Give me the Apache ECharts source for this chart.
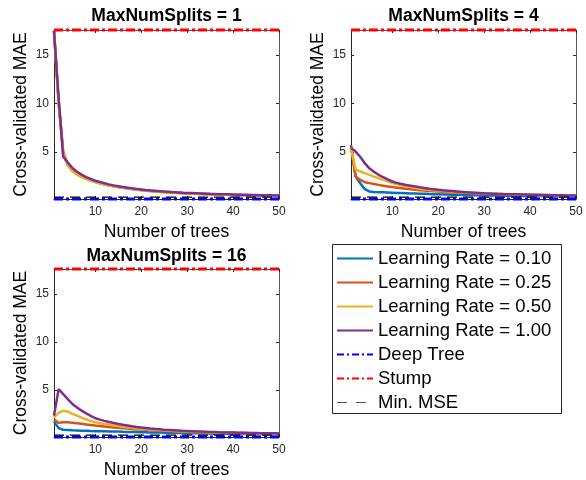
<!DOCTYPE html>
<html><head><meta charset="utf-8">
<script src="https://cdn.jsdelivr.net/npm/echarts@6/dist/echarts.min.js"></script>
<style>html,body{margin:0;padding:0;background:#fff}#c{width:586px;height:480px}</style>
</head><body><div id="c"></div>
<script>
// ---------- DATA ----------
const nTrees = [1,2,3,4,5,6,7,8,9,10,11,12,13,14,15,16,17,18,19,20,21,22,23,24,25,26,27,28,29,30,31,32,33,34,35,36,37,38,39,40,41,42,43,44,45,46,47,48,49,50];
const panelTitles = ['MaxNumSplits = 1', 'MaxNumSplits = 4', 'MaxNumSplits = 16'];
const rateNames = ['Learning Rate = 0.10', 'Learning Rate = 0.25', 'Learning Rate = 0.50', 'Learning Rate = 1.00'];
const refNames = ['Deep Tree', 'Stump', 'Min. MSE'];
const xTickValues = [10, 20, 30, 40, 50];
const yTickValues = [5, 10, 15];
const deepTreeMAE = 0.13;
const stumpMAE = 17.6;
const minMSE = 0.33;

// MaxNumSplits = 1
const split1_lr010 = [17.5,10.2,4.9,3.65,3.05,2.7,2.44,2.23,2.05,1.9,1.76,1.64,1.54,1.45,1.37,1.30,1.23,1.17,1.11,1.06,1.01,0.96,0.92,0.88,0.85,0.82,0.79,0.76,0.74,0.71,0.69,0.67,0.65,0.64,0.62,0.61,0.59,0.58,0.57,0.55,0.54,0.53,0.52,0.51,0.50,0.49,0.48,0.47,0.46,0.45];
const split1_lr025 = [17.5,10.3,5.0,3.7,3.1,2.75,2.48,2.27,2.08,1.92,1.78,1.66,1.56,1.47,1.38,1.31,1.24,1.18,1.12,1.07,1.02,0.97,0.93,0.89,0.86,0.83,0.80,0.77,0.74,0.72,0.70,0.68,0.66,0.64,0.63,0.61,0.60,0.58,0.57,0.56,0.55,0.54,0.53,0.52,0.51,0.50,0.49,0.48,0.47,0.46];
const split1_lr050 = [17.5,10.0,4.9,3.6,3.0,2.65,2.4,2.2,2.02,1.87,1.74,1.62,1.52,1.43,1.35,1.28,1.21,1.15,1.09,1.04,0.99,0.95,0.91,0.87,0.84,0.81,0.78,0.75,0.73,0.71,0.69,0.67,0.65,0.63,0.62,0.60,0.59,0.58,0.56,0.55,0.54,0.53,0.52,0.51,0.50,0.49,0.48,0.47,0.46,0.45];
const split1_lr100 = [17.5,10.6,4.5,3.9,3.35,2.95,2.65,2.4,2.2,2.02,1.88,1.75,1.64,1.54,1.45,1.37,1.30,1.23,1.17,1.11,1.06,1.02,0.98,0.94,0.90,0.87,0.84,0.81,0.78,0.76,0.74,0.72,0.70,0.68,0.66,0.65,0.63,0.62,0.61,0.59,0.58,0.57,0.56,0.55,0.54,0.53,0.52,0.51,0.50,0.49];

// MaxNumSplits = 4
const split4_lr010 = [5.7,2.45,1.77,1.15,0.91,0.86,0.84,0.82,0.80,0.78,0.76,0.74,0.72,0.70,0.69,0.67,0.66,0.64,0.63,0.62,0.60,0.59,0.58,0.57,0.56,0.55,0.54,0.53,0.52,0.51,0.50,0.49,0.49,0.48,0.47,0.47,0.46,0.45,0.45,0.44,0.44,0.43,0.43,0.42,0.42,0.41,0.41,0.41,0.40,0.40];
const split4_lr025 = [5.6,2.45,2.1,1.87,1.77,1.68,1.59,1.51,1.43,1.36,1.30,1.24,1.18,1.13,1.08,1.04,1.00,0.96,0.93,0.90,0.87,0.84,0.81,0.79,0.77,0.75,0.73,0.71,0.69,0.67,0.66,0.64,0.63,0.62,0.60,0.59,0.58,0.57,0.56,0.55,0.54,0.53,0.52,0.51,0.50,0.49,0.48,0.48,0.47,0.46];
const split4_lr050 = [5.38,3.2,2.97,2.8,2.63,2.45,2.28,2.11,1.95,1.77,1.66,1.56,1.46,1.36,1.26,1.20,1.14,1.09,1.04,1.00,0.96,0.92,0.89,0.86,0.83,0.80,0.78,0.76,0.73,0.71,0.69,0.68,0.66,0.64,0.63,0.61,0.60,0.59,0.58,0.57,0.56,0.55,0.54,0.53,0.52,0.51,0.50,0.49,0.48,0.48];
const split4_lr100 = [5.4,5.03,4.5,3.83,3.3,2.95,2.63,2.38,2.15,1.94,1.80,1.68,1.58,1.50,1.42,1.34,1.27,1.20,1.14,1.08,1.03,0.99,0.95,0.91,0.87,0.84,0.81,0.78,0.75,0.72,0.70,0.68,0.66,0.65,0.63,0.62,0.61,0.60,0.59,0.58,0.57,0.56,0.55,0.54,0.53,0.52,0.51,0.50,0.49,0.49];

// MaxNumSplits = 16
const split16_lr010 = [1.73,1.05,0.88,0.85,0.82,0.80,0.78,0.77,0.75,0.74,0.73,0.72,0.71,0.70,0.69,0.67,0.66,0.65,0.64,0.63,0.62,0.61,0.60,0.59,0.58,0.57,0.56,0.55,0.54,0.53,0.52,0.51,0.51,0.50,0.49,0.48,0.48,0.47,0.46,0.46,0.45,0.45,0.44,0.44,0.43,0.43,0.42,0.42,0.41,0.41];
const split16_lr025 = [1.94,1.6,1.67,1.67,1.6,1.55,1.5,1.44,1.38,1.32,1.27,1.22,1.17,1.13,1.09,1.05,1.01,0.97,0.94,0.91,0.88,0.85,0.82,0.80,0.78,0.75,0.73,0.71,0.70,0.68,0.66,0.65,0.63,0.62,0.61,0.60,0.59,0.58,0.57,0.56,0.55,0.54,0.53,0.52,0.51,0.50,0.50,0.49,0.48,0.48];
const split16_lr050 = [2.18,2.63,2.87,2.76,2.53,2.35,2.15,1.97,1.81,1.67,1.57,1.48,1.40,1.33,1.26,1.20,1.14,1.09,1.04,0.99,0.95,0.91,0.88,0.85,0.82,0.79,0.76,0.74,0.72,0.70,0.68,0.66,0.64,0.63,0.61,0.60,0.59,0.58,0.57,0.56,0.55,0.54,0.53,0.52,0.51,0.50,0.50,0.49,0.48,0.48];
const split16_lr100 = [2.35,5.1,4.59,4.07,3.56,3.2,2.87,2.58,2.32,2.08,1.94,1.81,1.69,1.58,1.49,1.40,1.32,1.24,1.17,1.11,1.06,1.01,0.97,0.93,0.89,0.86,0.83,0.80,0.77,0.75,0.73,0.71,0.69,0.67,0.65,0.64,0.62,0.61,0.60,0.59,0.58,0.57,0.56,0.55,0.54,0.53,0.52,0.51,0.51,0.50];

const panelData = [
  [split1_lr010, split1_lr025, split1_lr050, split1_lr100],
  [split4_lr010, split4_lr025, split4_lr050, split4_lr100],
  [split16_lr010, split16_lr025, split16_lr050, split16_lr100]
];

// ---------- STYLE ----------
const FONT = '"Liberation Sans", Arial, Helvetica, sans-serif';
const AX = '#262626';
const rateColors = ['#0072BD', '#D95319', '#EDB120', '#7E2F8E'];
const grids = [
  {left: 54, top: 30, width: 225, height: 169},
  {left: 351, top: 30, width: 225, height: 169},
  {left: 54, top: 269, width: 225, height: 169}
];

const xAxes = [], yAxes = [], series = [], graphics = [];
grids.forEach((g, p) => {
  const xBase = {
    type: 'value', gridIndex: p, min: nTrees[0], max: nTrees[nTrees.length - 1],
    splitLine: {show: false},
    axisLine: {show: true, onZero: false, lineStyle: {color: AX, width: 1}},
    axisTick: {show: true, inside: true, length: 3, customValues: xTickValues, lineStyle: {color: AX}}
  };
  xAxes.push(Object.assign({}, xBase, {
    position: 'bottom',
    axisLabel: {customValues: xTickValues, margin: 7, fontSize: 12, color: AX, fontFamily: FONT},
    name: 'Number of trees', nameLocation: 'middle', nameGap: 24,
    nameTextStyle: {fontSize: 17.5, color: '#000', fontFamily: FONT}
  }));
  xAxes.push(Object.assign({}, xBase, {
    position: 'top', axisLabel: {show: false},
    axisLine: {show: true, onZero: false, lineStyle: {color: '#555', width: 1}}
  }));
  const yBase = {
    type: 'value', gridIndex: p, min: deepTreeMAE, max: stumpMAE,
    splitLine: {show: false},
    axisLine: {show: true, onZero: false, lineStyle: {color: AX, width: 1}},
    axisTick: {show: true, inside: true, length: 3, customValues: yTickValues, lineStyle: {color: AX}}
  };
  yAxes.push(Object.assign({}, yBase, {
    position: 'left',
    axisLabel: {customValues: yTickValues, margin: 5, fontSize: 12, color: AX, fontFamily: FONT},
    name: 'Cross-validated MAE', nameLocation: 'middle', nameGap: 24,
    nameTextStyle: {fontSize: 17.5, color: '#000', fontFamily: FONT}
  }));
  yAxes.push(Object.assign({}, yBase, {
    position: 'right', axisLabel: {show: false},
    axisLine: {show: true, onZero: false, lineStyle: {color: '#555', width: 1}}
  }));

  panelData[p].forEach((arr, k) => {
    series.push({
      type: 'line', name: rateNames[k], xAxisIndex: 2 * p, yAxisIndex: 2 * p,
      data: nTrees.map((n, i) => [n, arr[i]]),
      symbol: 'none', showSymbol: false, animation: false,
      lineStyle: {width: 2.5, color: rateColors[k]}, itemStyle: {color: rateColors[k]}
    });
  });
  const ends = [nTrees[0], nTrees[nTrees.length - 1]];
  const refs = [
    {name: refNames[0], v: deepTreeMAE, color: '#0000FF', type: [9, 3, 3, 3], width: 3},
    {name: refNames[1], v: stumpMAE, color: '#FF0000', type: [9, 3, 3, 3], width: 3},
    {name: refNames[2], v: minMSE, color: '#000000', type: [10, 6], width: 1.2}
  ];
  refs.forEach(r => {
    series.push({
      type: 'line', name: r.name, xAxisIndex: 2 * p, yAxisIndex: 2 * p,
      data: ends.map(e => [e, r.v]), clip: false,
      symbol: 'none', showSymbol: false, animation: false,
      lineStyle: {width: r.width, color: r.color, type: r.type}, itemStyle: {color: r.color}
    });
  });

  graphics.push({
    type: 'text', x: g.left + g.width / 2, y: p === 2 ? 256.5 : 16.5,
    style: {text: panelTitles[p], textAlign: 'center', textVerticalAlign: 'middle',
      font: 'bold 17.5px ' + FONT, fill: '#000'}
  });
});

graphics.push({
  type: 'rect', shape: {x: 332.5, y: 244.5, width: 229, height: 169}, z: -1,
  style: {fill: '#fff', stroke: AX, lineWidth: 1}
});

const hiddenMarker = {color: 'rgba(0,0,0,0)', borderColor: 'rgba(0,0,0,0)', borderWidth: 0, opacity: 0};
const legendData = rateNames.map(n => ({name: n, lineStyle: {width: 2}, itemStyle: hiddenMarker}))
  .concat([
    {name: refNames[0], lineStyle: {width: 2, type: [7, 3, 2, 3]}, itemStyle: hiddenMarker},
    {name: refNames[1], lineStyle: {width: 2, type: [7, 3, 2, 3]}, itemStyle: hiddenMarker},
    {name: refNames[2], lineStyle: {width: 1, color: '#555', type: [10, 9]}, itemStyle: hiddenMarker}
  ]);

const chart = echarts.init(document.getElementById('c'), null, {renderer: 'canvas'});
chart.setOption({
  animation: false,
  backgroundColor: '#fff',
  grid: grids,
  xAxis: xAxes,
  yAxis: yAxes,
  series: series,
  graphic: graphics,
  legend: {
    orient: 'vertical', left: 336, top: 249, padding: 0,
    itemWidth: 36, itemHeight: 14, itemGap: 5, selectedMode: false,
    itemStyle: hiddenMarker,
    textStyle: {fontSize: 18.5, color: '#000', fontFamily: FONT},
    data: legendData
  }
});
</script>
</body></html>
